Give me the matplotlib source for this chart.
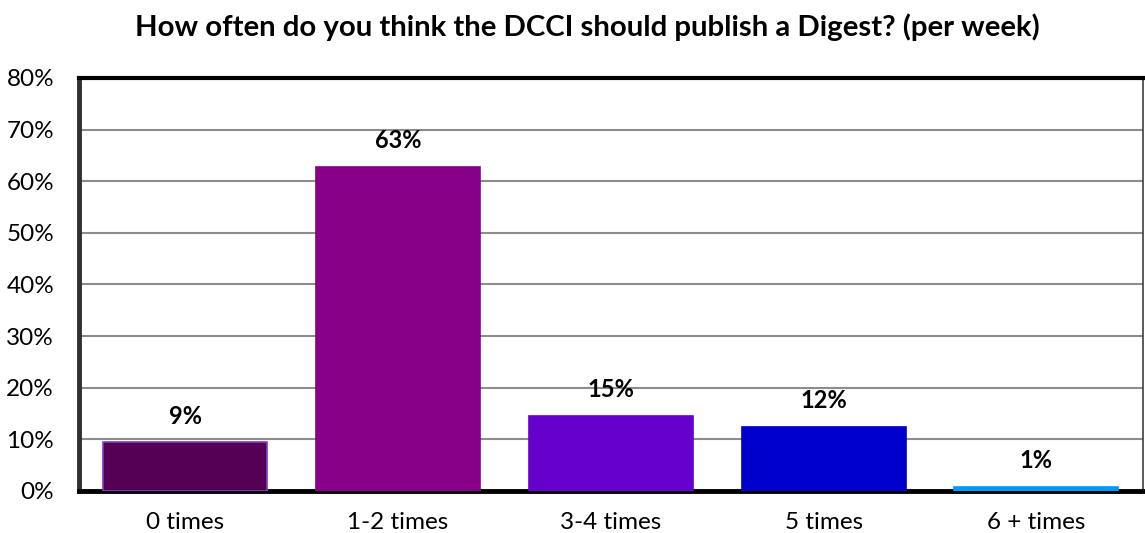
import matplotlib.pyplot as plt
from matplotlib.ticker import PercentFormatter

plt.rcParams['font.family'] = ['Lato', 'DejaVu Sans']

# survey answers: share of respondents per option
categories = ['0 times', '1-2 times', '3-4 times', '5 times', '6 + times']
shares = [0.094, 0.628, 0.146, 0.124, 0.007]
bar_colors = ['#550055', '#880088', '#6600CC', '#0000CC', '#0099FF']
edge_colors = ['#7F3FBF', '#880088', '#6600CC', '#0000CC', '#0099FF']

fig = plt.figure(figsize=(11.45, 5.33), dpi=100)
ax = fig.add_axes([0.069, 0.0788, 0.929, 0.775])

x = range(len(categories))
ax.bar(x, shares, width=0.77, color=bar_colors, edgecolor=edge_colors,
       linewidth=1.2, zorder=3)

for xi, v in zip(x, shares):
    ax.annotate(f'{v:.0%}', (xi, v), xytext=(0, 19), textcoords='offset points',
                ha='center', va='center', fontsize=17, fontweight='bold')

ax.set_xlim(-0.5, 4.5)
ax.set_ylim(0, 0.8)
ax.set_yticks([i / 10 for i in range(9)])
ax.yaxis.set_major_formatter(PercentFormatter(1.0, decimals=0))
ax.set_xticks(list(x))
ax.set_xticklabels(categories)
ax.tick_params(axis='both', length=0, labelsize=17.5)
ax.tick_params(axis='y', pad=18)
ax.tick_params(axis='x', pad=15)

ax.grid(axis='y', color='#8C8C8C', linewidth=1.5, zorder=0)

ax.spines['left'].set_color('#303030')
ax.spines['left'].set_linewidth(3.5)
ax.spines['top'].set_color('black')
ax.spines['top'].set_linewidth(3)
ax.spines['bottom'].set_color('black')
ax.spines['bottom'].set_linewidth(3.5)
ax.spines['right'].set_color('#404040')
ax.spines['right'].set_linewidth(1.2)

fig.suptitle('How often do you think the DCCI should publish a Digest? (per week)',
             x=0.513, y=0.975, fontsize=21.2, fontweight='bold')

fig.savefig('out.png', dpi=100)
